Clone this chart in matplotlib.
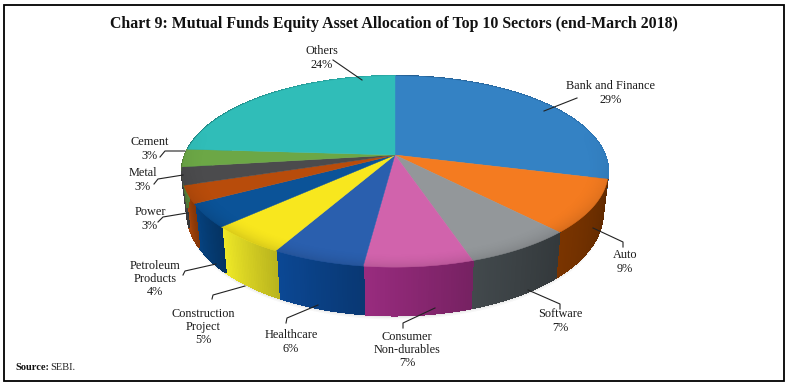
"""
Mutual funds equity allocation, 3D looking pie drawn by hand
"""

import numpy as np
import matplotlib
matplotlib.use("Agg")
import matplotlib.pyplot as plt
from matplotlib.patches import Polygon, Rectangle

# Datos
sectores = ["Bank and Finance", "Auto", "Software", "Consumer\nNon-durables", "Healthcare",
            "Construction\nProject", "Petroleum\nProducts", "Power", "Metal", "Cement", "Others"]
valores = [29, 9, 7, 7, 6, 5, 4, 3, 3, 3, 24]

# Colores
color_top = ["#3482C4", "#F47B20", "#93979A", "#D163AC", "#2A5FAE", "#F8E71E",
             "#0B5398", "#B84C0B", "#4B4B4D", "#6CA746", "#30BDB8"]
color_side = ["#2A6CA6", "#6B2E00", "#3A4043", "#86266F", "#0A3F82", "#D2CC22",
              "#053A70", "#933C08", "#3A3A3C", "#557F38", "#249490"]

# Geometria de la torta (pixeles de la imagen)
cx, cy = 395, 155
a, b, k = 210, 92.7, 0.173
prof = 40
escala_base = 0.975

# Etiquetas y lineas guia
pos_etiquetas = [(611, 93), (625, 262), (560, 321), (407, 350), (291, 342), (203, 327),
                 (155, 279), (150, 219), (143, 180), (150, 149), (322, 58)]
guias = [[(544, 111), (577, 98)],
         [(593, 228), (623, 242), (623, 247)],
         [(528, 290), (560, 304), (560, 309)],
         [(435, 308), (403, 323), (403, 328)],
         [(318, 305), (287, 318), (286, 323)],
         [(245, 286), (213, 295), (212, 299)],
         [(216, 264), (185, 271), (183, 275)],
         [(187, 213), (163, 217), (158, 222)],
         [(183, 175), (158, 179), (154, 184)],
         [(185, 151), (165, 151), (160, 157)],
         [(362, 80), (333, 60)]]


def proyectar(theta, bajar=False):
    """Angulo horario desde arriba -> pixel, con perspectiva"""
    u = np.sin(theta)
    v = np.cos(theta)
    w = 1 + k * v
    x = a * u / w
    y = cy - b * v / w
    if bajar:
        x = x * escala_base
        y = y + prof / w
    return cx + x, y


plt.rcParams['font.family'] = ['Liberation Serif', 'DejaVu Serif']
fig = plt.figure(figsize=(7.89, 3.86), dpi=100)
ax = fig.add_axes([0, 0, 1, 1])
ax.axis('off')

ax.add_patch(Rectangle((4.5, 4.5), 779.5, 376.5, fill=False, edgecolor='black', linewidth=1.3, zorder=10))

acum = np.cumsum([0] + valores) / sum(valores) * 2 * np.pi

# Sombra suave bajo la torta
t_all = np.linspace(0, 2 * np.pi, 300)
for extra, alfa in [(4, 0.03), (2.5, 0.04), (1.2, 0.05)]:
    xs, ys = proyectar(t_all, bajar=True)
    ax.add_patch(Polygon(np.column_stack([xs, ys + extra]), facecolor='black', edgecolor='none',
                         alpha=alfa, zorder=1))

# Caras laterales, en tiras para el degrade horizontal
for i in range(len(valores)):
    t = np.linspace(acum[i], acum[i + 1], int(valores[i] * 6) + 2)
    base = np.array(matplotlib.colors.to_rgb(color_side[i]))
    xa, ya = proyectar(t)
    xb, yb = proyectar(t[::-1], bajar=True)
    ax.add_patch(Polygon(np.column_stack([np.r_[xa, xb], np.r_[ya, yb]]), facecolor=base, edgecolor='none', zorder=2))
    for j in range(len(t) - 1):
        x0, y0 = proyectar(t[j])
        x1, y1 = proyectar(t[j + 1])
        x2, y2 = proyectar(t[j + 1], bajar=True)
        x3, y3 = proyectar(t[j], bajar=True)
        f = (j + 0.5) / (len(t) - 1)
        c = np.clip(base * (0.88 + 0.26 * f), 0, 1)
        ax.add_patch(Polygon([(x0, y0), (x1, y1), (x2, y2), (x3, y3)], facecolor=c, edgecolor=c,
                             linewidth=0.8, antialiased=False, zorder=2))

# Cara superior
for i in range(len(valores)):
    t = np.linspace(acum[i], acum[i + 1], int(valores[i] * 6) + 2)
    xs, ys = proyectar(t)
    pts = [(cx, cy)] + list(zip(xs, ys))
    ax.add_patch(Polygon(pts, facecolor=color_top[i], edgecolor=color_top[i], linewidth=0.3, zorder=3))

# Oscurecer apenas el borde cercano de la cara superior
gx, gy = np.meshgrid(np.arange(170, 620), np.arange(70, 275))
vv = (cy - gy) / (b - k * (cy - gy))
ww = 1 + k * vv
uu = (gx - cx) * ww / a
rr = np.sqrt(uu ** 2 + vv ** 2)
sombra = np.zeros(gx.shape + (4,))
sombra[..., 3] = 0.12 * np.clip((rr - 0.88) / 0.12, 0, 1) ** 2 * np.clip(0.3 - vv, 0, 1)
im = ax.imshow(sombra, extent=(170, 620, 275, 70), zorder=4, aspect='auto', interpolation='bilinear')
xs, ys = proyectar(t_all)
clip = Polygon(np.column_stack([xs, ys]), transform=ax.transData, facecolor='none', edgecolor='none')
ax.add_patch(clip)
im.set_clip_path(clip)
ax.set_xlim(0, 789)
ax.set_ylim(386, 0)

# Textos
for nombre, val, pos, guia in zip(sectores, valores, pos_etiquetas, guias):
    ax.text(pos[0], pos[1], f"{nombre}\n{val}%", ha='center', va='center', fontsize=8.8,
            color='#1a1a1a', linespacing=1.12, zorder=6)
    gxs, gys = zip(*guia)
    ax.plot(gxs, gys, color='#222222', linewidth=0.8, zorder=5)

ax.text(394, 24, "Chart 9: Mutual Funds Equity Asset Allocation of Top 10 Sectors (end-March 2018)",
        ha='center', va='center', fontsize=11.4, fontweight='bold', color='#111111')
ax.text(15, 368, "Source:", ha='left', va='center', fontsize=7.5, fontweight='bold', color='#111111')
ax.text(50, 368, "SEBI.", ha='left', va='center', fontsize=7.5, color='#222222')

fig.savefig("out.png", dpi=100)
plt.close(fig)
